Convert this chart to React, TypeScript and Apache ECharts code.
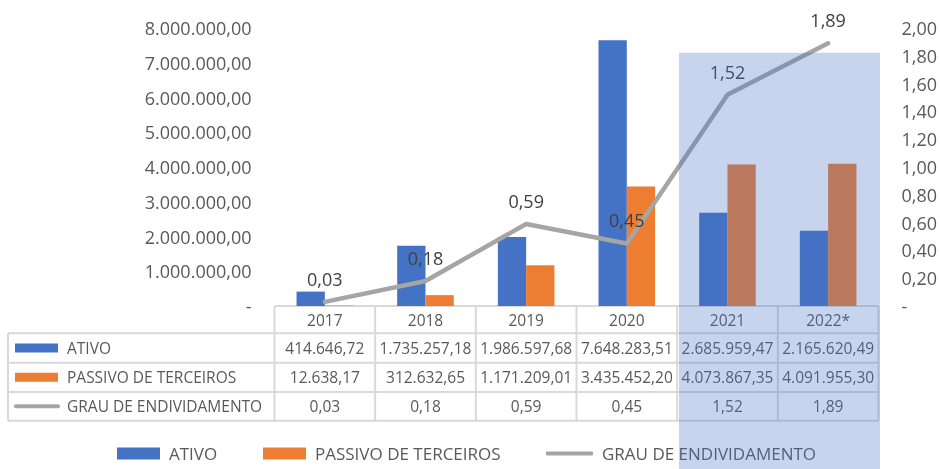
import React, { useEffect, useRef } from "react";
import * as echarts from "echarts";

const categories = ["2017", "2018", "2019", "2020", "2021", "2022*"];
const ativo = [414646.72, 1735257.18, 1986597.68, 7648283.51, 2685959.47, 2165620.49];
const passivo = [12638.17, 312632.65, 1171209.01, 3435452.2, 4073867.35, 4091955.3];
const grau = [0.03, 0.18, 0.59, 0.45, 1.52, 1.89];
const seriesNames = ["ATIVO", "PASSIVO DE TERCEIROS", "GRAU DE ENDIVIDAMENTO"];

const FONT = "Open Sans";
const TXT = "#595959";

function fmtBR(v: number, dec: number): string {
  const neg = v < 0;
  const fixed = Math.abs(v).toFixed(dec);
  const [ip, dp] = fixed.split(".");
  const withDots = ip.replace(/\B(?=(\d{3})+(?!\d))/g, ".");
  return (neg ? "-" : "") + withDots + (dp ? "," + dp : "");
}

export default function App() {
  const ref = useRef<HTMLDivElement>(null);
  useEffect(() => {
    if (!ref.current) return;
    const chart = echarts.init(ref.current, null, { renderer: "svg" });
    const plotLeft = 274.5;
    const plotRight = 878.5;
    const plotTop = 28;
    const plotBottom = 306;
    const W = (plotRight - plotLeft) / categories.length;
    const rowY = [306, 333.3, 362.7, 392, 420.7];
    const tableLeft = 8;
    const lineColor = "#D9D9D9";
    const graphics: any[] = [];
    graphics.push({ type: "line", z: 1, shape: { x1: plotLeft, y1: rowY[0], x2: plotRight, y2: rowY[0] }, style: { stroke: lineColor, lineWidth: 2 } });
    for (let i = 1; i < rowY.length; i++) {
      graphics.push({ type: "line", z: 1, shape: { x1: tableLeft, y1: rowY[i], x2: plotRight, y2: rowY[i] }, style: { stroke: lineColor, lineWidth: 2 } });
    }
    graphics.push({ type: "line", z: 1, shape: { x1: tableLeft, y1: rowY[1], x2: tableLeft, y2: rowY[4] }, style: { stroke: lineColor, lineWidth: 2 } });
    for (let i = 0; i <= categories.length; i++) {
      const x = plotLeft + i * W;
      graphics.push({ type: "line", z: 1, shape: { x1: x, y1: rowY[0], x2: x, y2: rowY[4] }, style: { stroke: lineColor, lineWidth: 2 } });
    }
    const rows = [ativo.map((v) => fmtBR(v, 2)), passivo.map((v) => fmtBR(v, 2)), grau.map((v) => fmtBR(v, 2))];
    categories.forEach((c, i) => {
      const cx = plotLeft + (i + 0.5) * W;
      graphics.push({ type: "text", z: 2, x: cx, y: (rowY[0] + rowY[1]) / 2, style: { text: c, fill: TXT, font: `15.5px "${FONT}"`, align: "center", verticalAlign: "middle" } });
      rows.forEach((r, j) => {
        graphics.push({ type: "text", z: 2, x: cx, y: (rowY[j + 1] + rowY[j + 2]) / 2, style: { text: r[i], fill: TXT, font: `15.5px "${FONT}"`, align: "center", verticalAlign: "middle" } });
      });
    });
    const keyColors = ["#4472C4", "#ED7D31"];
    seriesNames.forEach((n, j) => {
      const cy = (rowY[j + 1] + rowY[j + 2]) / 2;
      if (j < 2) {
        graphics.push({ type: "rect", z: 2, shape: { x: 15, y: cy - 4.5, width: 43, height: 9 }, style: { fill: keyColors[j] } });
      } else {
        graphics.push({ type: "line", z: 2, shape: { x1: 16, y1: cy, x2: 58, y2: cy }, style: { stroke: "#A5A5A5", lineWidth: 4, lineCap: "round" } });
      }
      graphics.push({ type: "text", z: 2, x: 67, y: cy, style: { text: n, fill: TXT, font: `15.5px "${FONT}"`, align: "left", verticalAlign: "middle" } });
    });
    graphics.push({ type: "rect", z: 100, shape: { x: 679, y: 52.7, width: 201, height: 469 - 52.7 }, style: { fill: "rgba(68,114,196,0.3)" } });

    const legendBase = {
      top: 440,
      itemHeight: 12,
      itemWidth: 43,
      textStyle: { color: TXT, fontSize: 17, fontFamily: FONT, padding: [0, 0, 0, 4] },
      selectedMode: false,
    };

    chart.setOption({
      animation: false,
      grid: { left: plotLeft, right: 940 - plotRight, top: plotTop, bottom: 469 - plotBottom },
      legend: [
        { ...legendBase, left: 112, data: [{ name: seriesNames[0], icon: "rect" }] },
        { ...legendBase, left: 258, data: [{ name: seriesNames[1], icon: "rect" }] },
        {
          ...legendBase,
          left: 541,
          itemWidth: 47,
          itemHeight: 4,
          data: [{ name: seriesNames[2], icon: "roundRect", itemStyle: { color: "#A5A5A5", opacity: 1 } }],
        },
      ],
      xAxis: {
        type: "category",
        data: categories,
        axisLabel: { show: false },
        axisLine: { show: false },
        axisTick: { show: false },
        splitLine: { show: false },
      },
      yAxis: [
        {
          type: "value",
          min: 0,
          max: 8000000,
          interval: 1000000,
          axisLine: { show: false },
          axisTick: { show: false },
          splitLine: { show: false },
          axisLabel: {
            margin: 23,
            color: TXT,
            fontSize: 18,
            fontFamily: FONT,
            formatter: (v: number) => (v === 0 ? "-" : fmtBR(v, 2)),
          },
        },
        {
          type: "value",
          min: 0,
          max: 2,
          interval: 0.2,
          axisLine: { show: false },
          axisTick: { show: false },
          splitLine: { show: false },
          axisLabel: {
            margin: 23,
            color: TXT,
            fontSize: 18,
            fontFamily: FONT,
            formatter: (v: number) => (v === 0 ? "-" : fmtBR(v, 2)),
          },
        },
      ],
      series: [
        { name: seriesNames[0], type: "bar", data: ativo, barWidth: 28.3, barGap: "0%", itemStyle: { color: "#4472C4" }, z: 2 },
        { name: seriesNames[1], type: "bar", data: passivo, barWidth: 28.3, barGap: "0%", itemStyle: { color: "#ED7D31" }, z: 2 },
        {
          name: seriesNames[2],
          type: "line",
          yAxisIndex: 1,
          data: grau,
          symbol: "circle",
          symbolSize: 2,
          showSymbol: true,
          z: 3,
          lineStyle: { color: "#A5A5A5", width: 4.5, cap: "round", join: "round" },
          itemStyle: { color: "#A5A5A5" },
          label: {
            show: true,
            position: "top",
            distance: 13,
            color: "#404040",
            fontSize: 18,
            fontFamily: FONT,
            formatter: (p: any) => fmtBR(p.value, 2),
          },
        },
      ],
      graphic: graphics,
    });
    return () => chart.dispose();
  }, []);
  return <div ref={ref} style={{ position: "fixed", left: 0, top: 0, width: 940, height: 469 }} />;
}
